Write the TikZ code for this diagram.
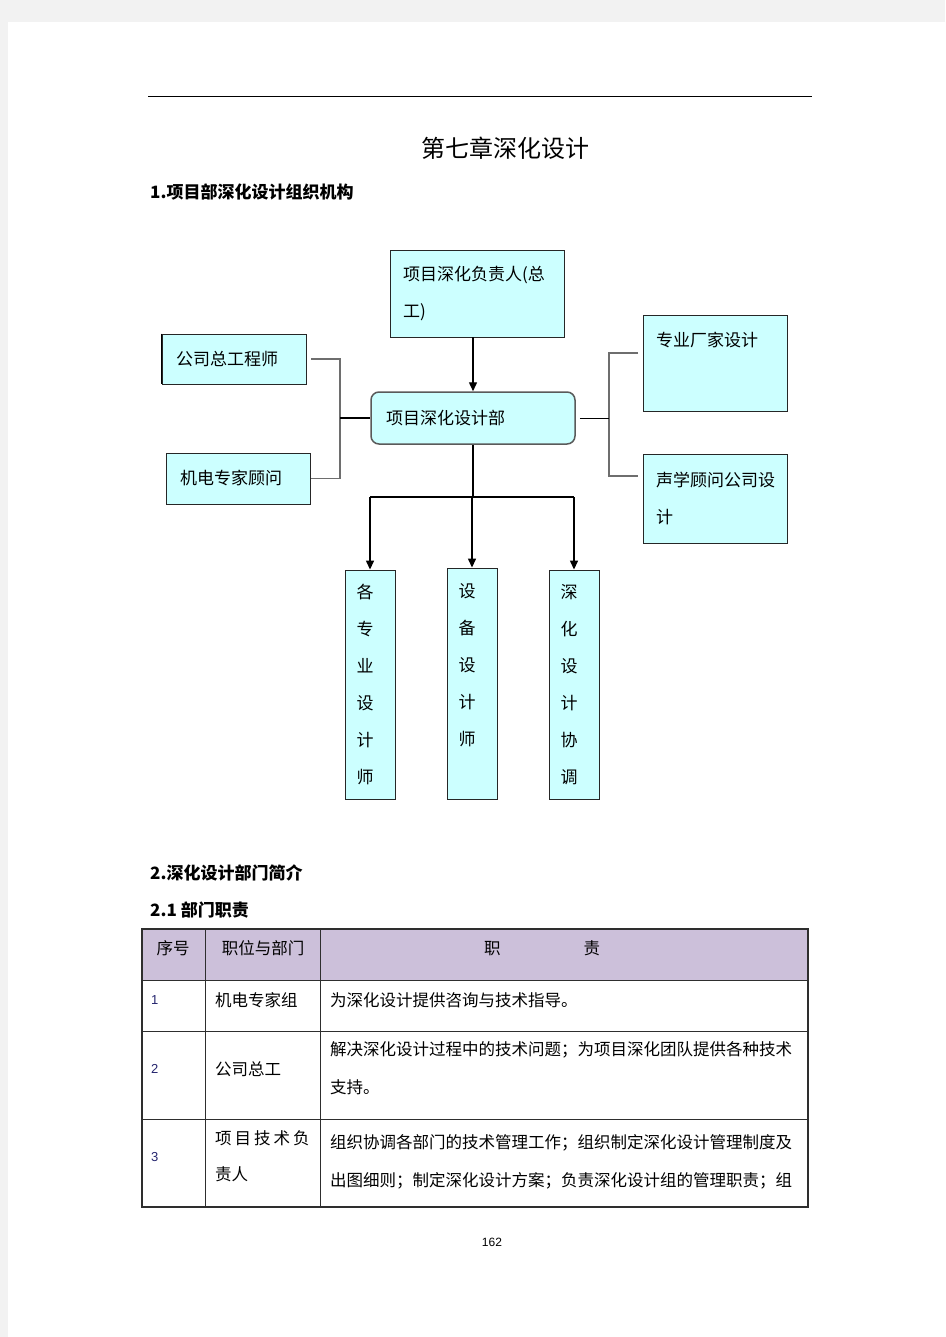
\documentclass[tikz,border=0pt]{standalone}
\usepackage{fontspec}
\setmainfont{Noto Sans CJK SC}
\newfontfamily\latinfont{Liberation Sans}
\usetikzlibrary{arrows.meta}
\definecolor{boxcyan}{HTML}{CCFFFF}
\definecolor{headlilac}{HTML}{CCC0DA}
\definecolor{pagegray}{HTML}{F2F2F2}
\definecolor{linkgray}{HTML}{6E6E6E}
\definecolor{deptgray}{HTML}{5A5A5A}
\definecolor{tablegray}{HTML}{2E2E2E}
\definecolor{numblue}{HTML}{25256E}

\begin{document}
\begin{tikzpicture}[x=1pt, y=-1pt,
  every node/.style={inner sep=0pt},
  orgbox/.style={draw=black!85, fill=boxcyan, line width=0.9pt, align=left,
    font=\fontsize{17}{37}\selectfont},
  colbox/.style={orgbox, minimum width=50pt, text width=27pt, align=left},
  link/.style={draw=linkgray, line width=1.2pt},
  flow/.style={line width=1.4pt, -{Triangle[length=9pt,width=8pt]}},
  cell/.style={anchor=west, align=left, font=\fontsize{16.5}{38}\selectfont},
  num/.style={anchor=west, text=numblue, font=\latinfont\fontsize{13}{15}\selectfont},
  heading/.style={anchor=west, font=\bfseries\fontsize{17}{20}\selectfont}]

  % page
  \fill[white] (0,0) rectangle (945,1337);
  \fill[pagegray] (0,0) rectangle (945,22);
  \fill[pagegray] (0,0) rectangle (8,1337);
  \useasboundingbox (0,0) rectangle (945,1337);
  \draw[line width=0.8pt] (148,96) -- (812,96);

  \node[font=\fontsize{24}{28}\selectfont] (title) at (505,148) {第七章深化设计};
  \node[heading] (h1) at (150,192) {1.项目部深化设计组织机构};

  % org chart
  \node[orgbox, minimum width=174pt, minimum height=87pt, text width=148pt] (lead) at (477,293.5) {项目深化负责人(总\\工)};
  \node[orgbox, minimum width=144pt, minimum height=50pt, text width=116pt] (chief) at (234,359) {公司总工程师};
  \draw[line width=1.6pt] (chief.north west) -- (chief.south west);
  \node[orgbox, minimum width=144pt, minimum height=51pt, text width=116pt] (mep) at (238,478.5) {机电专家顾问};
  \node[orgbox, draw=deptgray, line width=1.5pt, rounded corners=8pt, minimum width=204pt, minimum height=52pt, text width=174pt] (dept) at (473,418) {项目深化设计部};
  \node[orgbox, minimum width=144pt, minimum height=96pt, text width=118pt, font=\fontsize{17}{47}\selectfont] (vendor) at (715,363) {专业厂家设计\\~};
  \node[orgbox, minimum width=144pt, minimum height=89pt, text width=118pt] (acoustic) at (715,498.5) {声学顾问公司设\\计};

  \node[colbox, minimum height=229pt] (des1) at (370,684.5) {各\\专\\业\\设\\计\\师};
  \node[colbox, minimum height=231pt] (des2) at (472,683.5) {设\\备\\设\\计\\师\\~};
  \node[colbox, minimum height=229pt] (des3) at (574,684.5) {深\\化\\设\\计\\协\\调};

  \coordinate (lj) at (340,418);
  \draw[link] ([xshift=5pt]chief.east) -| (lj) |- ([xshift=1pt]mep.east);
  \draw[line width=2pt] (lj) -- (dept.west);

  \coordinate (rj) at (609,418);
  \coordinate (rtop) at (638,353);
  \coordinate (rbot) at (638,476);
  \draw[link] (rtop) -| (rj) |- (rbot);
  \draw[line width=1pt] ([xshift=4pt]dept.east) -- (rj);

  \draw[flow] (lead.south -| dept.north) -- (dept.north);
  \coordinate (split) at (473,497);
  \draw[line width=1.4pt] (dept.south) -- (split);
  \draw[line width=1.4pt] (split -| des1.north) -- (split -| des3.north);
  \draw[flow] (split -| des1.north) -- (des1.north);
  \draw[flow] (split -| des2.north) -- (des2.north);
  \draw[flow] (split -| des3.north) -- (des3.north);

  % section 2
  \node[heading] (h2) at (150,873) {2.深化设计部门简介};
  \node[heading] (h21) at (150,910) {2.1 部门职责};

  \fill[headlilac] (142,929) rectangle (808,980);
  \draw[tablegray, line width=0.9pt] (142,980) -- (808,980) (142,1031) -- (808,1031) (142,1119) -- (808,1119)
    (205,929) -- (205,1207) (320,929) -- (320,1207);
  \draw[tablegray, line width=2pt] (142,929) rectangle (808,1207);

  \node[font=\fontsize{16.5}{20}\selectfont] (th1) at (173,948) {序号};
  \node[font=\fontsize{16.5}{20}\selectfont] (th2) at (263,948) {职位与部门};
  \node[font=\fontsize{16.5}{20}\selectfont] (th3) at (542,948) {职\hspace{83pt}责};

  \node[num] (n1) at (151,1000) {1};
  \node[cell] (p1) at (215,1000) {机电专家组};
  \node[cell] (d1) at (330,1000) {为深化设计提供咨询与技术指导。};
  \node[num] (n2) at (151,1069) {2};
  \node[cell] (p2) at (215,1069) {公司总工};
  \node[cell] (d2) at (330,1068) {解决深化设计过程中的技术问题；为项目深化团队提供各种技术\\支持。};
  \node[num] (n3) at (151,1157) {3};
  \node[cell, font=\fontsize{16.5}{36}\selectfont] (p3) at (215,1156) {项\hspace{3pt}目\hspace{3pt}技\hspace{3pt}术\hspace{3pt}负\\责人};
  \node[cell] (d3) at (330,1162) {组织协调各部门的技术管理工作；组织制定深化设计管理制度及\\出图细则；制定深化设计方案；负责深化设计组的管理职责；组};

  \node[font=\latinfont\fontsize{12}{14}\selectfont] (page) at (492,1242) {162};
\end{tikzpicture}
\end{document}
